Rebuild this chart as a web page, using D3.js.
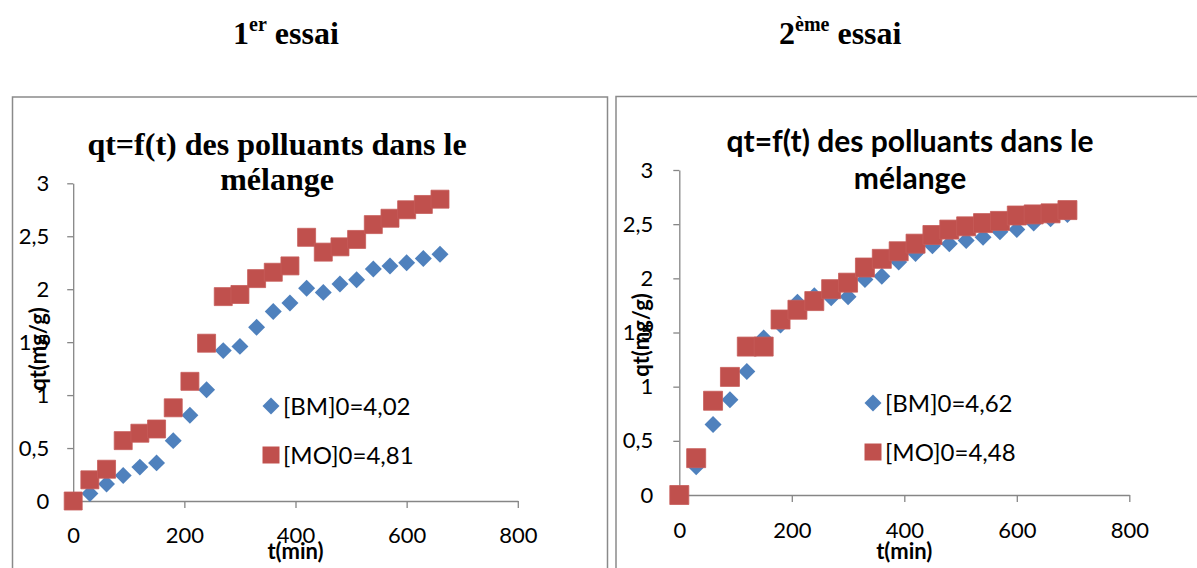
<!DOCTYPE html>
<html>
<head>
<meta charset="utf-8">
<script src="https://cdn.jsdelivr.net/npm/d3@7"></script>
<style>
body { margin: 0; background: #fff; }
svg { display: block; }
.axis path, .axis line { stroke: #868686; stroke-width: 1.3; }
.axis text { font-family: Lato, "Open Sans", sans-serif; font-size: 22px; fill: #000; }
</style>
</head>
<body>
<script>
// 1er essai
var times1 = [0,30,60,90,120,150,180,210,240,270,300,330,360,390,420,450,480,510,540,570,600,630,660];
var bm1 = [0,0.07,0.16,0.24,0.32,0.36,0.57,0.81,1.05,1.42,1.46,1.64,1.79,1.87,2.01,1.97,2.05,2.09,2.19,2.22,2.25,2.29,2.33];
var mo1 = [0,0.20,0.30,0.57,0.64,0.68,0.88,1.13,1.49,1.93,1.95,2.10,2.16,2.22,2.49,2.35,2.40,2.47,2.61,2.67,2.75,2.80,2.85];
var legend1 = ["[BM]0=4,02", "[MO]0=4,81"];

// 2ème essai
var times2 = [0,30,60,90,120,150,180,210,240,270,300,330,360,390,420,450,480,510,540,570,600,630,660,690];
var bm2 = [0,0.26,0.65,0.88,1.14,1.45,1.57,1.78,1.84,1.82,1.83,1.99,2.02,2.15,2.23,2.30,2.32,2.35,2.38,2.43,2.45,2.51,2.55,2.59];
var mo2 = [0,0.34,0.87,1.09,1.37,1.37,1.62,1.71,1.79,1.90,1.96,2.10,2.18,2.25,2.32,2.40,2.45,2.48,2.51,2.53,2.58,2.59,2.60,2.63];
var legend2 = ["[BM]0=4,62", "[MO]0=4,48"];

var xTicks = [0,200,400,600,800];
var yTicks = [0,0.5,1,1.5,2,2.5,3];
var titleLines = ["qt=f(t) des polluants dans le", "mélange"];
var xTitle = "t(min)";
var yTitle = "qt(mg/g)";

var blue = "#4F81BD", red = "#C0504D";
var serif = "'Liberation Serif', 'Times New Roman', serif";
var sans = "Lato, 'Open Sans', sans-serif";

var fr = d3.formatLocale({decimal: ",", thousands: " ", grouping: [3], currency: ["", " €"]});
var fmt = fr.format("~f");

var svg = d3.select("body").append("svg")
  .attr("width", 1197)
  .attr("height", 568);

// headings above the charts
function heading(x, num, sup) {
  var t = svg.append("text")
    .attr("x", x).attr("y", 44)
    .attr("font-family", serif)
    .attr("font-weight", "bold")
    .attr("font-size", 32);
  t.append("tspan").text(num);
  t.append("tspan").attr("dy", -13).attr("font-size", 20).text(sup);
  t.append("tspan").attr("dy", 13).text(" essai");
}
heading(233, "1", "er");
heading(779, "2", "ème");

var charts = [
  {times: times1, bm: bm1, mo: mo1, legend: legend1,
   box: [12.5, 97, 595], xr: [73.2, 517.8], yr: [501, 183.3],
   titleFont: serif, titleSize: 32, titleX: 277, titleY: [155, 190],
   yTitleX: 38, yTitleY: 349, xTitleY: 559, legX: 271, legY: [406, 455],
   sq: 18, dia: 12, pad: [18, 19.5]},
  {times: times2, bm: bm2, mo: mo2, legend: legend2,
   box: [616, 96.5, 600], xr: [679.3, 1129.3], yr: [495, 170],
   titleFont: sans, titleSize: 30, titleX: 910, titleY: [152, 189],
   yTitleX: 641, yTitleY: 335, xTitleY: 559, legX: 873, legY: [403, 452],
   sq: 19, dia: 12, pad: [20, 20.5]}
];

charts.forEach(function(c) {
  var g = svg.append("g");

  g.append("rect")
    .attr("x", c.box[0]).attr("y", c.box[1])
    .attr("width", c.box[2]).attr("height", 520)
    .attr("fill", "none")
    .attr("stroke", "#8a8a8a")
    .attr("stroke-width", 1.5);

  var x = d3.scaleLinear().domain([0, 800]).range(c.xr);
  var y = d3.scaleLinear().domain([0, 3]).range(c.yr);

  g.append("g")
    .attr("class", "axis")
    .attr("transform", "translate(0," + y(0) + ")")
    .call(d3.axisBottom(x).tickValues(xTicks).tickFormat(fmt)
      .tickSize(7).tickSizeOuter(0).tickPadding(c.pad[1]));

  g.append("g")
    .attr("class", "axis")
    .attr("transform", "translate(" + x(0) + ",0)")
    .call(d3.axisLeft(y).tickValues(yTicks).tickFormat(fmt)
      .tickSize(6).tickSizeOuter(0).tickPadding(c.pad[0]));

  // chart title
  g.selectAll(".ctitle")
    .data(titleLines)
    .enter().append("text")
    .attr("class", "ctitle")
    .attr("x", c.titleX)
    .attr("y", function(d, i) { return c.titleY[i]; })
    .attr("text-anchor", "middle")
    .attr("font-family", c.titleFont)
    .attr("font-weight", "bold")
    .attr("font-size", c.titleSize)
    .text(function(d) { return d; });

  g.append("text")
    .attr("x", x(400)).attr("y", c.xTitleY)
    .attr("text-anchor", "middle")
    .attr("font-family", sans)
    .attr("font-weight", "bold")
    .attr("font-size", 22)
    .text(xTitle);

  g.append("text")
    .attr("transform", "translate(" + c.yTitleX + "," + c.yTitleY + ") rotate(-90)")
    .attr("text-anchor", "middle")
    .attr("dy", "0.35em")
    .attr("font-family", sans)
    .attr("font-weight", "bold")
    .attr("font-size", 22)
    .text(yTitle);

  var diamond = d3.symbol().type(d3.symbolSquare).size(c.dia * c.dia);
  var square = d3.symbol().type(d3.symbolSquare).size(c.sq * c.sq);

  // series 1 : BM diamonds
  g.selectAll(".bm")
    .data(c.bm)
    .enter().append("path")
    .attr("class", "bm")
    .attr("d", diamond)
    .attr("transform", function(d, i) {
      return "translate(" + x(c.times[i]) + "," + y(d) + ") rotate(45)";
    })
    .attr("fill", blue);

  // series 2 : MO squares, drawn on top
  g.selectAll(".mo")
    .data(c.mo)
    .enter().append("path")
    .attr("class", "mo")
    .attr("d", square)
    .attr("transform", function(d, i) {
      return "translate(" + x(c.times[i]) + "," + y(d) + ")";
    })
    .attr("fill", red)
    .attr("stroke", "#c65c59")
    .attr("stroke-width", 0.8);

  // legend
  g.append("path")
    .attr("d", diamond)
    .attr("transform", "translate(" + c.legX + "," + c.legY[0] + ") rotate(45)")
    .attr("fill", blue);
  g.append("path")
    .attr("d", d3.symbol().type(d3.symbolSquare).size(17 * 17))
    .attr("transform", "translate(" + c.legX + "," + c.legY[1] + ")")
    .attr("fill", red);
  g.selectAll(".leg")
    .data(c.legend)
    .enter().append("text")
    .attr("class", "leg")
    .attr("x", c.legX + 12)
    .attr("y", function(d, i) { return c.legY[i]; })
    .attr("dy", "0.36em")
    .attr("font-family", sans)
    .attr("font-size", 24)
    .text(function(d) { return d; });
});
</script>
</body>
</html>
